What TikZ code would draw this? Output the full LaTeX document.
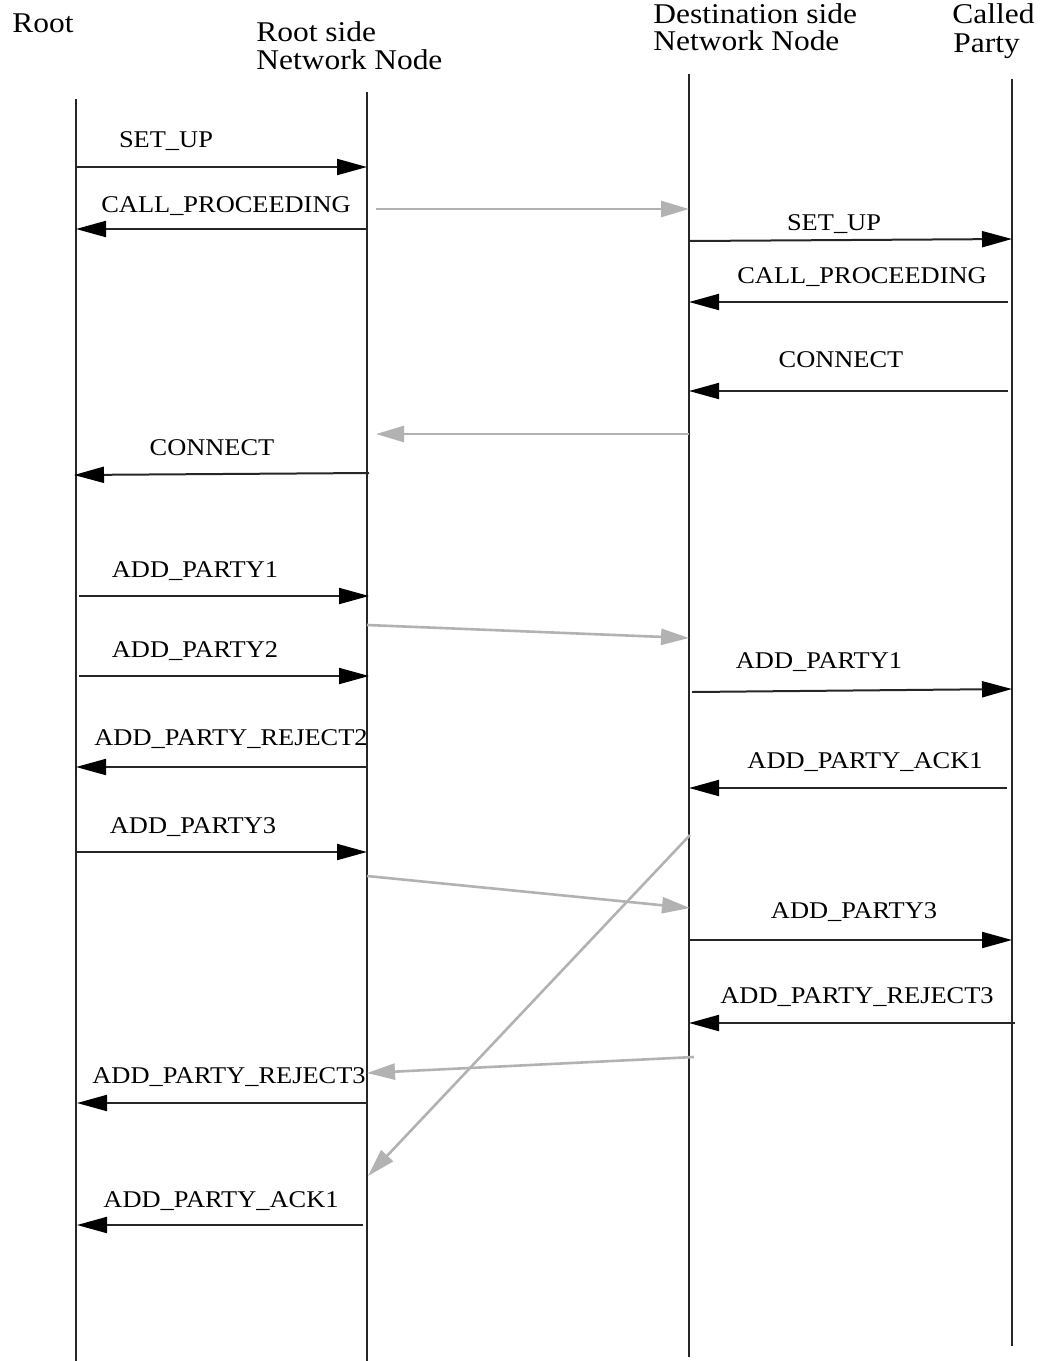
\documentclass[tikz,border=0pt]{standalone}
\usepackage{fontspec}
\setmainfont[FakeStretch=1.1]{Liberation Serif}
\usetikzlibrary{arrows.meta}
\tikzset{
  life/.style={line width=0.8pt, black!85},
  msg/.style={line width=1pt, black!85, -{Triangle[length=15pt,width=8pt,color=black]}},
  relay/.style={line width=1.3pt, color=black!30, -{Triangle[length=14pt,width=8pt]}},
  lbl/.style={font=\fontsize{12}{14}\selectfont, anchor=base, inner sep=0pt},
  hdr/.style={font=\fontsize{14.3}{14}\selectfont, anchor=base west, inner sep=0pt},
}
\begin{document}
\begin{tikzpicture}[x=0.5pt,y=-0.5pt]
\useasboundingbox (0,0) rectangle (1043,1361);

% headers
\node[hdr] (hroot) at (12,32) {Root};
\node[hdr] (hrn1) at (256,41) {Root side};
\node[hdr] (hrn2) at (256,69) {Network Node};
\node[hdr] (hdn1) at (653,23) {Destination side};
\node[hdr] (hdn2) at (653,50) {Network Node};
\node[hdr] (hcp1) at (952,23) {Called};
\node[hdr] (hcp2) at (953,52) {Party};

% lifelines
\coordinate (rootT) at (76,99);   \coordinate (rootB) at (76,1361);
\coordinate (rnT) at (367,92);    \coordinate (rnB) at (367,1361);
\coordinate (dnT) at (689,74);    \coordinate (dnB) at (689,1357);
\coordinate (cpT) at (1012,79);   \coordinate (cpB) at (1012,1346);
\draw[life] (rootT) -- (rootB);
\draw[life] (rnT) -- (rnB);
\draw[life] (dnT) -- (dnB);
\draw[life] (cpT) -- (cpB);

% message end points
\coordinate (m1a) at (76,167);    \coordinate (m1b) at (367,167);
\coordinate (m2a) at (367,229);   \coordinate (m2b) at (76,229);
\coordinate (g1a) at (376,209);   \coordinate (g1b) at (689,209);
\coordinate (m3a) at (689,241);   \coordinate (m3b) at (1012,239);
\coordinate (m4a) at (1008,302);  \coordinate (m4b) at (689,302);
\coordinate (m5a) at (1008,391);  \coordinate (m5b) at (689,391);
\coordinate (g2a) at (689,434);   \coordinate (g2b) at (376,434);
\coordinate (m6a) at (369,473);   \coordinate (m6b) at (74,475);
\coordinate (m7a) at (79,596);    \coordinate (m7b) at (369,596);
\coordinate (g3a) at (367,625);   \coordinate (g3b) at (689,638);
\coordinate (m8a) at (79,676);    \coordinate (m8b) at (369,676);
\coordinate (m9a) at (692,692);   \coordinate (m9b) at (1012,689);
\coordinate (m10a) at (367,767);  \coordinate (m10b) at (76,767);
\coordinate (m11a) at (1007,788); \coordinate (m11b) at (689,788);
\coordinate (m12a) at (76,852);   \coordinate (m12b) at (367,852);
\coordinate (g4a) at (367,876);   \coordinate (g4b) at (690,908);
\coordinate (g5a) at (690,835);   \coordinate (g5b) at (368,1176);
\coordinate (m13a) at (689,940);  \coordinate (m13b) at (1012,940);
\coordinate (m14a) at (1015,1023); \coordinate (m14b) at (689,1023);
\coordinate (g6a) at (694,1057);  \coordinate (g6b) at (367,1073);
\coordinate (m15a) at (367,1103); \coordinate (m15b) at (77,1103);
\coordinate (m16a) at (363,1225); \coordinate (m16b) at (77,1225);

% relay (grey) arrows
\draw[relay] (g1a) -- (g1b);
\draw[relay] (g2a) -- (g2b);
\draw[relay] (g3a) -- (g3b);
\draw[relay] (g4a) -- (g4b);
\draw[relay] (g5a) -- (g5b);
\draw[relay] (g6a) -- (g6b);

% messages
\draw[msg] (m1a) -- (m1b);
\draw[msg] (m2a) -- (m2b);
\draw[msg] (m3a) -- (m3b);
\draw[msg] (m4a) -- (m4b);
\draw[msg] (m5a) -- (m5b);
\draw[msg] (m6a) -- (m6b);
\draw[msg] (m7a) -- (m7b);
\draw[msg] (m8a) -- (m8b);
\draw[msg] (m9a) -- (m9b);
\draw[msg] (m10a) -- (m10b);
\draw[msg] (m11a) -- (m11b);
\draw[msg] (m12a) -- (m12b);
\draw[msg] (m13a) -- (m13b);
\draw[msg] (m14a) -- (m14b);
\draw[msg] (m15a) -- (m15b);
\draw[msg] (m16a) -- (m16b);

% labels
\node[lbl] (l1) at (166,147) {SET\_UP};
\node[lbl] (l2) at (226,212) {CALL\_PROCEEDING};
\node[lbl] (l3) at (834,230) {SET\_UP};
\node[lbl] (l4) at (862,283) {CALL\_PROCEEDING};
\node[lbl] (l5) at (841,367) {CONNECT};
\node[lbl] (l6) at (212,455) {CONNECT};
\node[lbl] (l7) at (195,577) {ADD\_PARTY1};
\node[lbl] (l8) at (195,657) {ADD\_PARTY2};
\node[lbl] (l9) at (819,668) {ADD\_PARTY1};
\node[lbl] (l10) at (231,745) {ADD\_PARTY\_REJECT2};
\node[lbl] (l11) at (865,768) {ADD\_PARTY\_ACK1};
\node[lbl] (l12) at (193,833) {ADD\_PARTY3};
\node[lbl] (l13) at (854,918) {ADD\_PARTY3};
\node[lbl] (l14) at (857,1003) {ADD\_PARTY\_REJECT3};
\node[lbl] (l15) at (229,1083) {ADD\_PARTY\_REJECT3};
\node[lbl] (l16) at (221,1207) {ADD\_PARTY\_ACK1};
\end{tikzpicture}
\end{document}
